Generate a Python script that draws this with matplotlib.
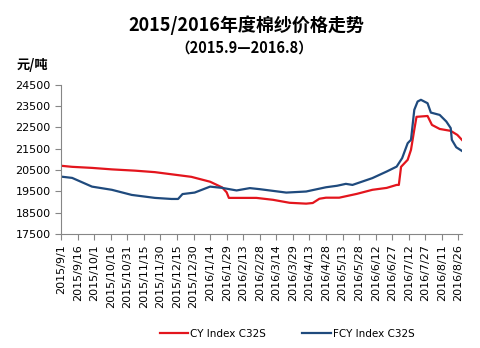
import matplotlib
matplotlib.use('Agg')
import matplotlib.pyplot as plt
import pandas as pd

plt.rcParams['font.family'] = ['DejaVu Sans', 'Noto Sans CJK SC']

# CY Index C32S (red)
cy_dates = ['2015-09-01', '2015-09-11', '2015-09-29', '2015-10-17', '2015-11-07',
            '2015-11-25', '2015-12-10', '2015-12-28', '2016-01-14', '2016-01-25',
            '2016-01-29', '2016-01-31', '2016-02-25', '2016-03-11', '2016-03-26',
            '2016-04-10', '2016-04-16', '2016-04-22', '2016-04-28', '2016-05-10',
            '2016-05-26', '2016-06-09', '2016-06-22', '2016-07-01', '2016-07-03',
            '2016-07-05', '2016-07-11', '2016-07-14', '2016-07-17', '2016-07-19',
            '2016-07-29', '2016-08-02', '2016-08-09', '2016-08-19', '2016-08-25',
            '2016-08-30']
cy_vals = [20700, 20650, 20600, 20530, 20470,
           20400, 20300, 20180, 19950, 19680,
           19450, 19190, 19190, 19100, 18960,
           18920, 18950, 19150, 19200, 19200,
           19380, 19570, 19660, 19800, 19800,
           20650, 20980, 21450, 22400, 23000,
           23040, 22620, 22430, 22340, 22150,
           21870]

# FCY Index C32S (blue)
fcy_dates = ['2015-09-01', '2015-09-11', '2015-09-29', '2015-10-17', '2015-11-04',
             '2015-11-25', '2015-12-10', '2015-12-16', '2015-12-20', '2015-12-31',
             '2016-01-14', '2016-01-25', '2016-02-07', '2016-02-19', '2016-02-28',
             '2016-03-23', '2016-04-10', '2016-04-28', '2016-05-08', '2016-05-16',
             '2016-05-22', '2016-06-09', '2016-06-22', '2016-07-01', '2016-07-06',
             '2016-07-11', '2016-07-14', '2016-07-17', '2016-07-20', '2016-07-23',
             '2016-07-29', '2016-08-01', '2016-08-09', '2016-08-15', '2016-08-19',
             '2016-08-20', '2016-08-24', '2016-08-30']
fcy_vals = [20190, 20130, 19720, 19570, 19330,
            19190, 19140, 19140, 19370, 19440,
            19720, 19660, 19540, 19650, 19600,
            19440, 19490, 19690, 19760, 19850,
            19800, 20120, 20430, 20660, 21060,
            21760, 21920, 23330, 23720, 23800,
            23640, 23200, 23090, 22780, 22470,
            21920, 21570, 21370]

tick_dates = pd.date_range('2015-09-01', periods=25, freq='15D')
tick_labels = [f'{d.year}/{d.month}/{d.day}' for d in tick_dates]
y_ticks = [17500, 18500, 19500, 20500, 21500, 22500, 23500, 24500]

fig = plt.figure(figsize=(4.81, 3.48), dpi=100)
ax = fig.add_axes([0.127, 0.328, 0.833, 0.428])

ax.plot(pd.to_datetime(cy_dates), cy_vals, color='#e3151d', lw=1.6, label='CY Index C32S')
ax.plot(pd.to_datetime(fcy_dates), fcy_vals, color='#1f4a7d', lw=1.6, label='FCY Index C32S')

ax.set_ylim(17500, 24500)
ax.set_yticks(y_ticks)
ax.set_xlim(pd.Timestamp('2015-09-01'), pd.Timestamp('2016-08-29'))
ax.set_xticks(tick_dates)
ax.set_xticklabels(tick_labels, rotation=90)
ax.tick_params(labelsize=8, color='#868686', length=4, width=0.8)

for s in ['top', 'right']:
    ax.spines[s].set_visible(False)
for s in ['left', 'bottom']:
    ax.spines[s].set_color('#868686')
    ax.spines[s].set_linewidth(0.8)

fig.text(0.512, 0.927, '2015/2016年度棉纱价格走势', ha='center', va='center',
         fontsize=13, fontweight='bold', family=['Noto Sans CJK SC'])
fig.text(0.508, 0.862, '（2015.9—2016.8）', ha='center', va='center',
         fontsize=10.5, fontweight='bold', family=['Noto Sans CJK SC'])
fig.text(0.034, 0.812, '元/吨', ha='left', va='center',
         fontsize=9.5, fontweight='bold', family=['Noto Sans CJK SC'])

fig.legend(loc='center', bbox_to_anchor=(0.597, 0.04), ncol=2, frameon=False,
           fontsize=7.5, handlelength=2.7, columnspacing=3.5, handletextpad=0.2)

fig.savefig('out.png', dpi=100)
